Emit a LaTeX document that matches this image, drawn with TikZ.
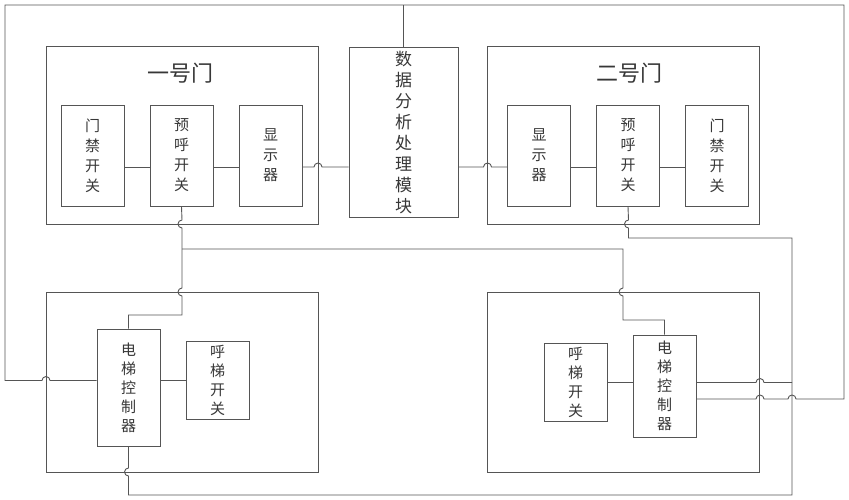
\documentclass[tikz,border=0pt]{standalone}
\usepackage{fontspec}
\setmainfont{Noto Sans CJK SC}
\usepackage{tikz}
\usetikzlibrary{positioning, calc}
\definecolor{linegray}{RGB}{85,85,85}
\definecolor{textgray}{RGB}{55,55,55}
\tikzstyle{zone} = [rectangle, draw=linegray, line width=0.9pt, minimum width=272pt, minimum height=178pt]
\tikzstyle{unit} = [rectangle, draw=linegray, line width=0.9pt, minimum width=63pt, minimum height=101pt, align=center, text=textgray, font=\fontsize{15}{20}\selectfont]
\tikzstyle{title} = [text=textgray, font=\fontsize{22}{24}\selectfont]
\tikzstyle{wire} = [draw=linegray, line width=0.9pt]

\begin{document}
\begin{tikzpicture}[x=1pt, y=-1pt, node distance=89pt]
\useasboundingbox (0,0) rectangle (849,500);

\node (door1) [zone] at (182,135) {};
\node (door2) [zone] at (623.5,135) {};
\node (lift1) [zone, minimum height=180pt] at (182,382) {};
\node (lift2) [zone, minimum height=180pt] at (623.5,382) {};
\node (name1) [title] at (180,73) {一号门};
\node (name2) [title] at (629,73) {二号门};

\node (dpm) [unit, minimum width=109pt, minimum height=169pt, font=\fontsize{17}{21}\selectfont] at (403.5,132.5) {数\\据\\分\\析\\处\\理\\模\\块};

\node (gate1) [unit] at (92.5,155.5) {门\\禁\\开\\关};
\node (pre1) [unit, right of=gate1] {预\\呼\\开\\关};
\node (disp1) [unit, right of=pre1] {显\\示\\器};

\node (disp2) [unit] at (539,155.5) {显\\示\\器};
\node (pre2) [unit, right of=disp2] {预\\呼\\开\\关};
\node (gate2) [unit, right of=pre2] {门\\禁\\开\\关};

\node (ctrl1) [unit, minimum height=117pt, font=\fontsize{15}{19}\selectfont] at (128.5,387.5) {电\\梯\\控\\制\\器};
\node (call1) [unit, minimum height=77pt, font=\fontsize{15}{19}\selectfont] at (217.5,380.5) {呼\\梯\\开\\关};
\node (call2) [unit, minimum height=77pt, font=\fontsize{15}{19}\selectfont] at (575.5,382.5) {呼\\梯\\开\\关};
\node (ctrl2) [unit, minimum height=102pt, font=\fontsize{15}{19}\selectfont] at (664.5,386) {电\\梯\\控\\制\\器};

\draw [wire] ([yshift=-11.5pt]gate1.east) -- ([yshift=-11.5pt]pre1.west);
\draw [wire] ([yshift=-11.5pt]pre1.east) -- ([yshift=-11.5pt]disp1.west);
\draw [wire] ([yshift=-11.5pt]disp1.east) -- (314,167) arc[start angle=180, end angle=360, radius=4] -- ([yshift=-34.5pt]dpm.west);
\draw [wire] ([yshift=-34.5pt]dpm.east) -- (483.5,167) arc[start angle=180, end angle=360, radius=4] -- ([yshift=-11.5pt]disp2.west);
\draw [wire] ([yshift=-11.5pt]disp2.east) -- ([yshift=-11.5pt]pre2.west);
\draw [wire] ([yshift=-11.5pt]pre2.east) -- ([yshift=-11.5pt]gate2.west);

\draw [wire] (pre1.south) -- (182,220) arc[start angle=270, end angle=90, radius=4] -- (182,288) arc[start angle=270, end angle=90, radius=4] -- (182,315) -| (ctrl1.north);
\coordinate (split1) at (182,249);
\draw [wire] (split1) -- (623,249) -- (623,288) arc[start angle=270, end angle=90, radius=4] -- (623,320) -| (ctrl2.north);

\draw [wire] (ctrl1.south) -- (128.5,468) arc[start angle=270, end angle=90, radius=4] -- (128.5,495) -- (792,495) -- (792,238) -- (628.5,238) -- (628.5,228) arc[start angle=90, end angle=270, radius=4] -- (pre2.south);
\draw [wire] (ctrl2.east |- call2.east) -- (756,382.5) arc[start angle=180, end angle=360, radius=4] -- (792,382.5);
\draw [wire] ([yshift=-13pt]ctrl2.east) -- (756,399) arc[start angle=180, end angle=360, radius=4] -- (788,399) arc[start angle=180, end angle=360, radius=4] -- (844,399) -- (844,5) -- (5,5) -- (5,380.5) -- (42,380.5) arc[start angle=180, end angle=360, radius=4] -- (ctrl1.west |- call1.west);
\draw [wire] (dpm.north) -- (403.5,5);

\draw [wire] (call1.west) -- (call1.west -| ctrl1.east);
\draw [wire] (call2.east) -- (call2.east -| ctrl2.west);
\end{tikzpicture}
\end{document}
